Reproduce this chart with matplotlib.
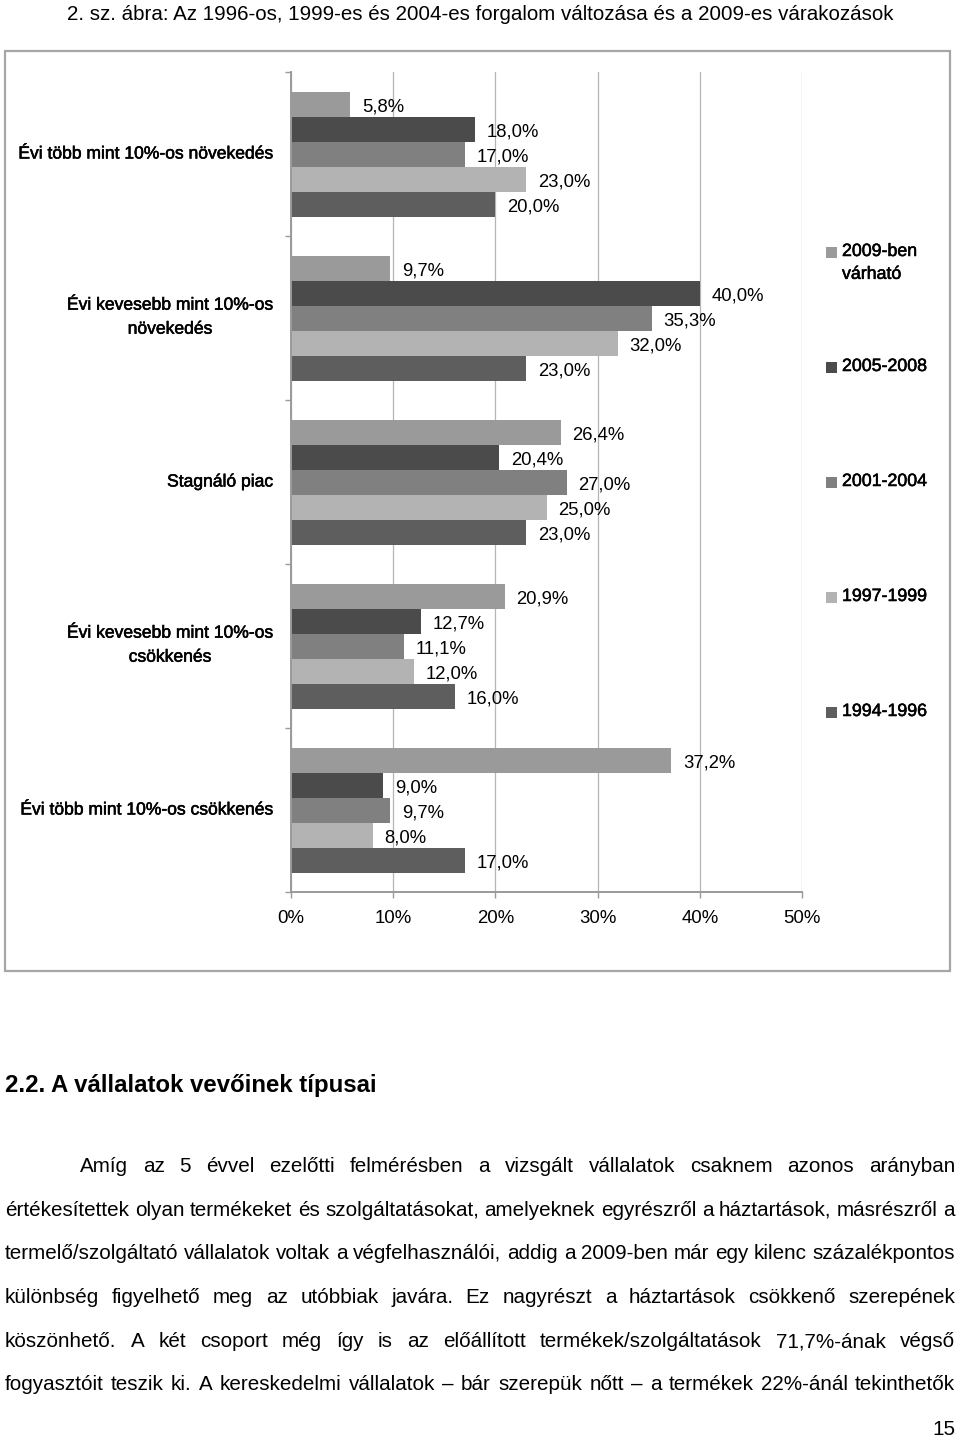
import matplotlib
matplotlib.use("Agg")
import matplotlib.pyplot as plt
import matplotlib.patheffects as pe
from matplotlib.patches import Rectangle
import numpy as np

plt.rcParams['font.family'] = ['Liberation Sans', 'DejaVu Sans']
NARROW = ['Liberation Sans Narrow', 'Liberation Sans', 'DejaVu Sans']

# ---------------- data ----------------
categories = [
    "Évi több mint 10%-os növekedés",
    "Évi kevesebb mint 10%-os\nnövekedés",
    "Stagnáló piac",
    "Évi kevesebb mint 10%-os\ncsökkenés",
    "Évi több mint 10%-os csökkenés",
]
series_names = ["2009-ben\nvárható", "2005-2008", "2001-2004", "1997-1999", "1994-1996"]
v2009 = [5.8, 9.7, 26.4, 20.9, 37.2]
v2005_2008 = [18.0, 40.0, 20.4, 12.7, 9.0]
v2001_2004 = [17.0, 35.3, 27.0, 11.1, 9.7]
v1997_1999 = [23.0, 32.0, 25.0, 12.0, 8.0]
v1994_1996 = [20.0, 23.0, 23.0, 16.0, 17.0]
series_values = [v2009, v2005_2008, v2001_2004, v1997_1999, v1994_1996]
series_colors = ["#9a9a9a", "#4b4b4b", "#808080", "#b3b3b3", "#5e5e5e"]
xtick_values = [0, 10, 20, 30, 40, 50]
xtick_labels = ["0%", "10%", "20%", "30%", "40%", "50%"]

title_text = "2. sz. ábra: Az 1996-os, 1999-es és 2004-es forgalom változása és a 2009-es várakozások"
heading_text = "2.2. A vállalatok vevőinek típusai"
body_lines = [
    "Amíg az 5 évvel ezelőtti felmérésben a vizsgált vállalatok csaknem azonos arányban",
    "értékesítettek olyan termékeket és szolgáltatásokat, amelyeknek egyrészről a háztartások, másrészről a",
    "termelő/szolgáltató vállalatok voltak a végfelhasználói, addig a 2009-ben már egy kilenc százalékpontos",
    "különbség figyelhető meg az utóbbiak javára. Ez nagyrészt a háztartások csökkenő szerepének",
    "köszönhető. A két csoport még így is az előállított termékek/szolgáltatások 71,7%-ának végső",
    "fogyasztóit teszik ki. A kereskedelmi vállalatok – bár szerepük nőtt – a termékek 22%-ánál tekinthetők",
]
page_number = "15"

# ---------------- layout helpers ----------------
W, H = 960, 1440
fig = plt.figure(figsize=(W / 100, H / 100), dpi=100)
fig.patch.set_facecolor("white")


def fx(px):
    return px / W


def fy(py):
    return 1 - py / H


renderer = fig.canvas.get_renderer()
heavy = [pe.withStroke(linewidth=0.4, foreground="black")]


def fit_text(x, y, s, width_px, ha="left", weight="normal", base=14):
    t = fig.text(fx(x), fy(y), s, fontsize=base, ha=ha, va="baseline",
                 fontweight=weight, color="black", family=NARROW)
    w = t.get_window_extent(renderer).width
    t.set_fontsize(base * width_px / w)
    return t


# page title
fit_text(480, 20, title_text, 833, ha="center")

# chart frame
fig.patches.append(Rectangle((fx(5), fy(971)), (950 - 5) / W, (971 - 51) / H,
                             transform=fig.transFigure, fill=False,
                             edgecolor="#a6a6a6", lw=1.6))

# ---------------- chart ----------------
ax = fig.add_axes([fx(291), fy(892), (802 - 291) / W, (892 - 72) / H])
n_cat = len(categories)
n_ser = len(series_values)
bh = 25 / 164
ypos = np.arange(n_cat)
for i, (vals, col) in enumerate(zip(series_values, series_colors)):
    yy = ypos + (i - (n_ser - 1) / 2) * bh
    ax.barh(yy, vals, height=bh, color=col, zorder=2, linewidth=0)
    for v, y in zip(vals, yy):
        ax.annotate(f"{v:.1f}%".replace(".", ","), (v, y), xytext=(8.4, -2.0),
                    textcoords="offset points", ha="left", va="center",
                    fontsize=13.3, color="black", zorder=3)

ax.set_xlim(0, 50)
ax.set_ylim(n_cat - 0.5, -0.5)
ax.set_xticks(xtick_values)
ax.set_xticklabels(xtick_labels, fontsize=13.4)
ax.set_yticks(np.arange(-0.5, n_cat, 1.0))
ax.set_yticklabels([])
ax.set_yticks(ypos, minor=True)
ax.set_yticklabels([])
ax.tick_params(axis="y", which="minor", length=0)
ax.tick_params(axis="y", which="major", length=4, width=1.0, color="#9a9a9a", direction="out")
ax.tick_params(axis="x", which="major", length=4, width=1.0, color="#9a9a9a",
               direction="out", pad=9)

# category labels (right aligned left of the axis, centred multi-line)
for y, cat in zip(ypos, categories):
    dy = 0.6 if "\n" in cat else 0.0
    ax.annotate(cat, (0, y), xycoords=("axes fraction", "data"),
                xytext=(-13.0, dy), textcoords="offset points",
                ha="right", va="center", multialignment="center",
                linespacing=1.75, fontsize=12.6, path_effects=heavy,
                annotation_clip=False)

ax.grid(axis="x", color="#b5b5b5", linewidth=0.9, zorder=0)
ax.set_axisbelow(True)
for s in ["top", "right"]:
    ax.spines[s].set_visible(False)
for s in ["left", "bottom"]:
    ax.spines[s].set_color("#9a9a9a")
    ax.spines[s].set_linewidth(1.4)
ax.set_facecolor("white")

# legend (manual, right side)
leg_y = [253, 368, 483, 598, 713]
for name, col, y in zip(series_names, series_colors, leg_y):
    fig.patches.append(Rectangle((fx(826), fy(y + 5)), 11 / W, 11 / H,
                                 transform=fig.transFigure, color=col, lw=0))
    fig.text(fx(842), fy(y - 10), name, fontsize=12.8, ha="left", va="top",
             linespacing=1.45, path_effects=heavy)

# ---------------- text below ----------------
fit_text(5, 1092, heading_text, 373, weight="bold", base=15)

# body font size: fit the densest line to natural width
probe = fig.text(0, 0, body_lines[2], fontsize=13, family=NARROW)
pw = probe.get_window_extent(renderer).width
probe.remove()
body_fs = 13 * 946 / pw

baselines = [1172, 1216, 1259, 1303, 1347, 1390]
for k, (line, yb) in enumerate(zip(body_lines, baselines)):
    x0 = 80 if k == 0 else 5
    x1 = 955
    words = line.split(" ")
    ts = [fig.text(0, fy(yb), w, fontsize=body_fs, ha="left", va="baseline",
                   family=NARROW) for w in words]
    widths = [t.get_window_extent(renderer).width for t in ts]
    gap = (x1 - x0 - sum(widths)) / (len(words) - 1)
    x = x0
    for t, w in zip(ts, widths):
        t.set_x(fx(x))
        x += w + gap

fig.text(fx(955), fy(1435), page_number, fontsize=body_fs, ha="right", va="baseline",
         family=NARROW)

fig.savefig("out.png", dpi=100, facecolor="white")
